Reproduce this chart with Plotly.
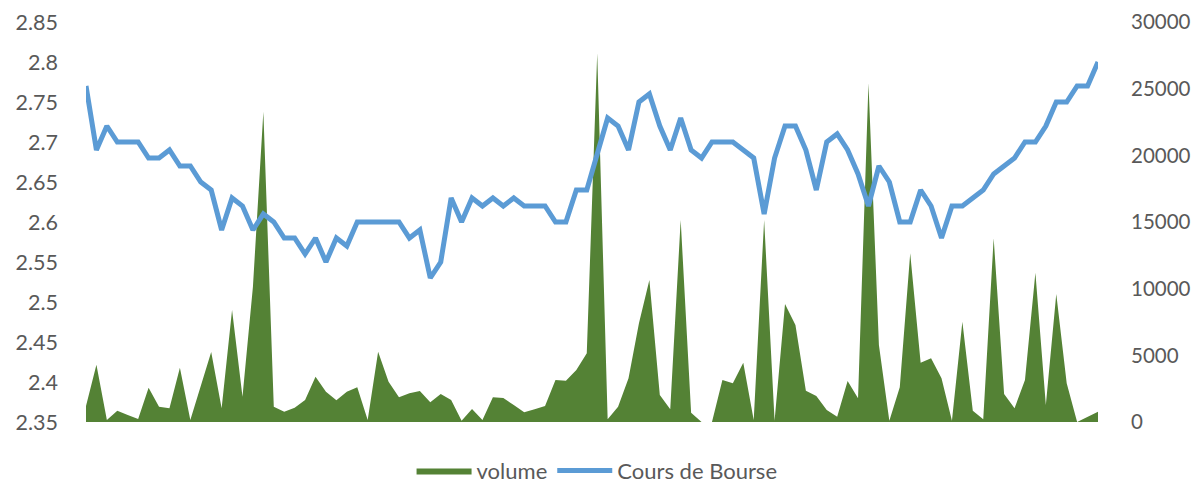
import plotly.graph_objects as go

# Data (98 sessions)
price = [2.77, 2.69, 2.72, 2.70, 2.70, 2.70, 2.68, 2.68, 2.69, 2.67,
         2.67, 2.65, 2.64, 2.59, 2.63, 2.62, 2.59, 2.61, 2.60, 2.58,
         2.58, 2.56, 2.58, 2.55, 2.58, 2.57, 2.60, 2.60, 2.60, 2.60,
         2.60, 2.58, 2.59, 2.53, 2.55, 2.63, 2.60, 2.63, 2.62, 2.63,
         2.62, 2.63, 2.62, 2.62, 2.62, 2.60, 2.60, 2.64, 2.64, 2.685,
         2.73, 2.72, 2.69, 2.75, 2.76, 2.72, 2.69, 2.73, 2.69, 2.68,
         2.70, 2.70, 2.70, 2.69, 2.68, 2.61, 2.68, 2.72, 2.72, 2.69,
         2.64, 2.70, 2.71, 2.69, 2.66, 2.62, 2.67, 2.65, 2.60, 2.60,
         2.64, 2.62, 2.58, 2.62, 2.62, 2.63, 2.64, 2.66, 2.67, 2.68,
         2.70, 2.70, 2.72, 2.75, 2.75, 2.77, 2.77, 2.80]

volume = [1200, 4300, 150, 850, 525, 225, 2575, 1150, 1025, 4075,
          150, 2725, 5250, 1025, 8400, 1900, 10150, 23275, 1150, 775,
          1075, 1650, 3400, 2275, 1625, 2275, 2600, 150, 5275, 3025,
          1850, 2150, 2325, 1475, 2100, 1650, 100, 975, 150, 1850,
          1800, 1275, 725, 950, 1200, 3150, 3100, 3900, 5150, 27650,
          200, 1150, 3275, 7400, 10650, 2025, 950, 15150, 700, 0,
          0, 3150, 2900, 4450, 150, 15150, 100, 8850, 7275, 2350,
          1950, 900, 400, 3075, 1775, 25400, 5775, 100, 2600, 12650,
          4450, 4775, 3275, 100, 7525, 850, 200, 13775, 2100, 1025,
          3150, 11200, 1275, 9600, 2900, 0, 400, 775]

x = list(range(len(price)))

left_ticks = [2.35, 2.40, 2.45, 2.50, 2.55, 2.60, 2.65, 2.70, 2.75, 2.80, 2.85]
left_labels = ["2.35", "2.4", "2.45", "2.5", "2.55", "2.6", "2.65", "2.7", "2.75", "2.8", "2.85"]
right_ticks = [0, 5000, 10000, 15000, 20000, 25000, 30000]

FONT = "Lato, 'Open Sans', sans-serif"
GREY = "#595959"

fig = go.Figure()
fig.add_trace(go.Scatter(
    x=x, y=volume, name="volume", mode="lines",
    line=dict(width=0, color="#548235"),
    fill="tozeroy", fillcolor="#548235",
    yaxis="y", hoverinfo="skip",
))
fig.add_trace(go.Scatter(
    x=x, y=price, name="Cours de Bourse", mode="lines",
    line=dict(width=5, color="#5B9BD5"),
    yaxis="y2",
))

fig.update_layout(
    width=1191, height=482,
    margin=dict(l=86, r=93, t=22, b=60, autoexpand=False),
    paper_bgcolor="white", plot_bgcolor="white",
    font=dict(family=FONT, size=21, color=GREY),
    showlegend=True,
    legend=dict(orientation="h", x=0.505, xanchor="center", y=-0.122, yanchor="middle",
                font=dict(size=22, color=GREY), itemwidth=55, traceorder="normal"),
    xaxis=dict(range=[0, len(price) - 1], showgrid=False, zeroline=False,
               showticklabels=False, ticks="", showline=False, automargin=False),
    yaxis=dict(range=[0, 30000], side="right", tickvals=right_ticks,
               ticktext=[str(v) for v in right_ticks], automargin=False,
               showgrid=False, zeroline=False, showline=False, ticks="",
               ticklabelstandoff=32, tickfont=dict(size=20.5, color=GREY)),
    yaxis2=dict(range=[2.35, 2.85], side="left", overlaying="y",
                tickvals=left_ticks, ticktext=left_labels, automargin=False,
                showgrid=False, zeroline=False, showline=False, ticks="",
                ticklabelstandoff=27, tickfont=dict(size=21.5, color=GREY)),
)

fig.write_html(
    "out.html",
    config={"displayModeBar": False},
    post_script="document.body.style.margin='0';document.documentElement.style.overflow='hidden';document.body.style.overflow='hidden';",
)
